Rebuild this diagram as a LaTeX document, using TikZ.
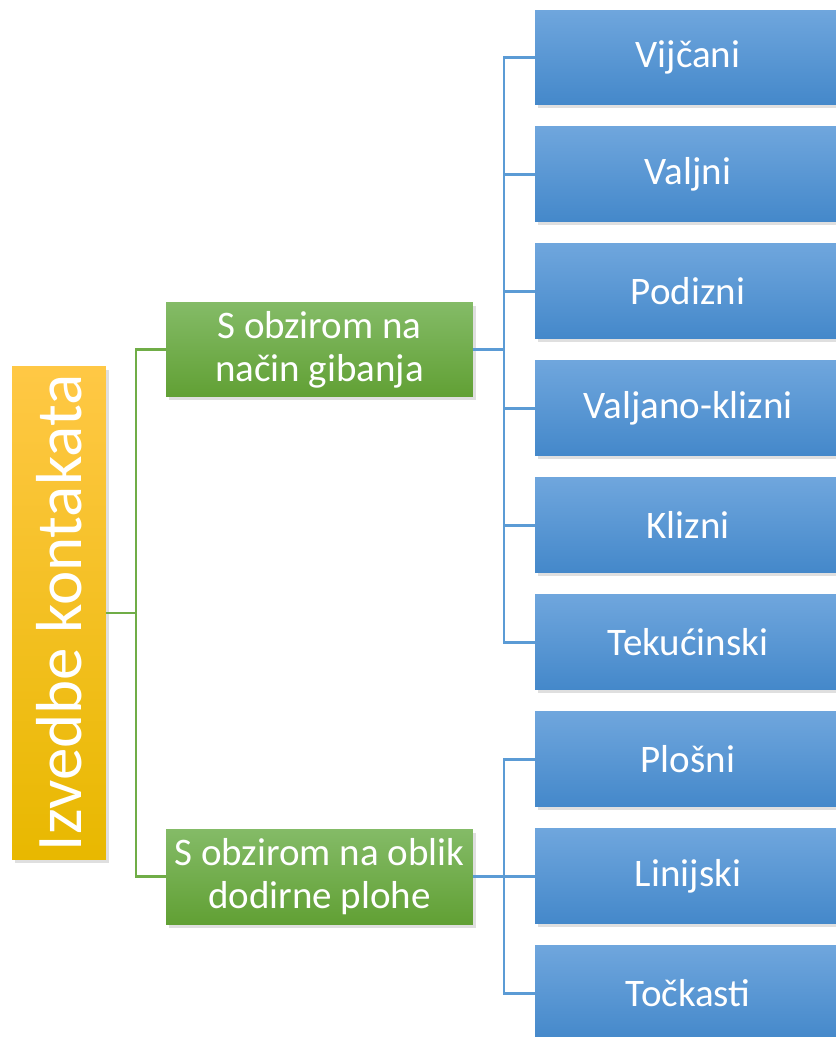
\documentclass[tikz,border=0pt]{standalone}
\usepackage{fontspec}
\setmainfont{Carlito}
\usepackage{tikz}
\usetikzlibrary{positioning,shadows}

\definecolor{bluetop}{HTML}{6FA6DD}
\definecolor{bluebot}{HTML}{4488CA}
\definecolor{greentop}{HTML}{84BB67}
\definecolor{greenbot}{HTML}{61A034}
\definecolor{goldtop}{HTML}{FFC845}
\definecolor{goldbot}{HTML}{E8B800}
\definecolor{greenwire}{HTML}{70AD47}
\definecolor{bluewire}{HTML}{5B9BD5}

\begin{document}
\begin{tikzpicture}[x=0.02cm,y=-0.02cm,node distance=0.44cm]

  % box styles
  \tikzstyle{boxshade}=[inner sep=0pt,outer sep=0pt,align=center,text=white,
    drop shadow={shadow xshift=0.06cm,shadow yshift=-0.07cm,opacity=0.25}]
  \tikzstyle{kind}=[boxshade,minimum width=6.12cm,minimum height=1.9cm,
    top color=bluetop,bottom color=bluebot,
    font=\fontsize{22.2pt}{24.5pt}\selectfont]
  \tikzstyle{group}=[boxshade,minimum width=6.14cm,minimum height=1.9cm,
    top color=greentop,bottom color=greenbot,
    font=\fontsize{22.2pt}{24.5pt}\selectfont]
  \tikzstyle{root}=[boxshade,minimum width=1.88cm,minimum height=9.88cm,
    top color=goldtop,bottom color=goldbot,
    font=\fontsize{37pt}{40pt}\selectfont]
  \tikzstyle{greenline}=[draw=greenwire,line width=1.5pt]
  \tikzstyle{blueline}=[draw=bluewire,line width=1.5pt]

  \useasboundingbox (0,0) rectangle (835,1037);

  % root
  \node[root] (izvedbe) at (59,613) {\rotatebox{90}{Izvedbe kontakata}};

  % groups
  \node[group] (gibanje) at (319.5,349.5) {S obzirom na\\način gibanja};
  \node[group] (oblik) at (319.5,876.5) {S obzirom na oblik\\dodirne plohe};

  % kinds of motion
  \node[kind] (vijcani) at (688,57.5) {Vijčani};
  \node[kind] (valjni) [below=of vijcani] {Valjni};
  \node[kind] (podizni) [below=of valjni] {Podizni};
  \node[kind] (valjkliz) [below=of podizni] {Valjano-klizni};
  \node[kind] (klizni) [below=of valjkliz] {Klizni};
  \node[kind] (tekuc) [below=of klizni] {Tekućinski};

  % kinds of contact surface
  \node[kind] (plosni) [below=of tekuc] {Plošni};
  \node[kind] (linijski) [below=of plosni] {Linijski};
  \node[kind] (tockasti) [below=of linijski] {Točkasti};

  % connectors
  \foreach \g in {gibanje,oblik}
    \draw[greenline] (izvedbe.east) -- ++(30,0) |- (\g.west);
  \foreach \k in {vijcani,valjni,podizni,valjkliz,klizni,tekuc}
    \draw[blueline] (gibanje.east) -- ++(31,0) |- (\k.west);
  \foreach \k in {plosni,linijski,tockasti}
    \draw[blueline] (oblik.east) -- ++(31,0) |- (\k.west);

\end{tikzpicture}
\end{document}
